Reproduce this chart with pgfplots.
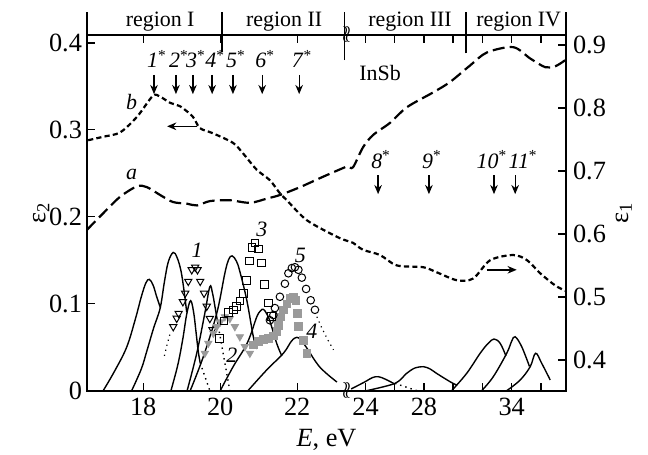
\documentclass[border=0pt]{standalone}
\usepackage{fontspec}
\setmainfont{Liberation Serif}
\usepackage{pgfplots}
\pgfplotsset{compat=1.18}
\usetikzlibrary{arrows.meta}
\definecolor{mgray}{HTML}{9A9A9A}

\newcommand{\tk}{\fontsize{13.2}{15}\selectfont}
\newcommand{\an}{\fontsize{11}{13}\selectfont}
\tikzset{dn/.style={line width=0.65bp, -{Stealth[length=4.6bp,width=3.8bp]}},
         lb/.style={font=\an, anchor=base, inner sep=0pt}}
\newcommand{\pmark}[5]{% x, arrow top, arrow bottom, label text, label shift
  \draw[dn] (axis cs:#1,#2) -- (axis cs:#1,#3);
  \node[lb] at (axis cs:#1,#2) [yshift=3.5bp, xshift=#5] {\textit{#4}\textsuperscript{*}};}

\begin{document}
\begin{tikzpicture}
\useasboundingbox (-43.5bp,-32.15bp) rectangle (280.5bp,195.35bp);
% x axis: 16.5..23.3 eV linear, right of the break 1 eV = 0.379 units
\begin{axis}[
  at={(0,0)}, anchor=south west,
  scale only axis, width=239.5bp, height=177.85bp,
  xmin=16.54, xmax=28.98, ymin=0, ymax=0.409,
  xtick={18,20,22,23.774,24.532,25.29,26.05,26.81,27.57,28.33},
  xticklabels={18,20,22,24,,28,,,34,},
  ytick={0,0.1,0.2,0.3,0.4}, yticklabels={0,0.1,0.2,0.3,0.4},
  ytick pos=left,
  tick align=inside,
  major tick length=4bp,
  axis line style={line width=1bp},
  tick style={line width=0.7bp, black},
  tick label style={font=\tk},
  yticklabel style={xshift=1bp},
  xlabel={\textit{E}, eV}, ylabel={ε\textsubscript{2}},
  ylabel shift=-7bp,
  label style={font=\tk},
  clip=false,
]
% eps curves
\addplot[line width=1.1bp, dash pattern=on 2.6bp off 1.6bp, smooth, tension=0.5] coordinates {
 (16.57,0.288) (16.96,0.292) (17.40,0.297) (17.84,0.315) (18.25,0.339) (18.44,0.338)
 (18.70,0.331) (18.96,0.327) (19.29,0.315) (19.47,0.302) (19.81,0.296) (20.33,0.285)
 (20.59,0.273) (20.95,0.254) (21.29,0.242) (21.55,0.227) (21.73,0.219) (22.25,0.196)
 (23.03,0.177) (23.32,0.172) (23.45,0.170) (23.71,0.162) (24.15,0.156) (24.59,0.144)
 (25.27,0.142) (25.63,0.136) (26.15,0.127) (26.57,0.129) (27.01,0.150) (27.61,0.156)
 (27.97,0.150) (28.31,0.135) (28.70,0.121) (28.96,0.115)};
\addplot[line width=1.1bp, dash pattern=on 6bp off 2.6bp, smooth, tension=0.5] coordinates {
 (16.54,0.185) (16.96,0.204) (17.40,0.223) (17.84,0.235) (18.10,0.234) (18.44,0.225)
 (18.77,0.217) (19.14,0.215) (19.40,0.213) (19.73,0.218) (20.25,0.219) (20.77,0.216)
 (21.22,0.221) (21.55,0.225) (22.07,0.234) (22.67,0.246) (23.19,0.256) (23.32,0.258)
 (23.45,0.257) (23.71,0.280) (23.97,0.294) (24.41,0.308) (24.85,0.326) (25.53,0.343)
 (25.97,0.355) (26.49,0.374) (26.93,0.389) (27.61,0.395) (28.05,0.382) (28.44,0.372)
 (28.70,0.373) (28.96,0.380)};
% solid peaks, region I-II
\addplot[line width=0.7bp, smooth, tension=0.6] coordinates {
 (16.96,0) (17.25,0.022) (17.57,0.050) (17.80,0.083) (17.95,0.108) (18.07,0.124)
 (18.16,0.128) (18.26,0.121) (18.35,0.108) (18.45,0.095)};
\addplot[line width=0.7bp, smooth, tension=0.6] coordinates {
 (17.70,0) (17.95,0.025) (18.09,0.045) (18.27,0.072) (18.44,0.095) (18.55,0.125)
 (18.65,0.148) (18.78,0.159) (18.88,0.153) (18.98,0.138) (19.06,0.115) (19.13,0.090)};
\addplot[line width=0.7bp, smooth, tension=0.6] coordinates {
 (18.72,0) (18.90,0.030) (19.03,0.060) (19.13,0.088) (19.23,0.1035) (19.31,0.090)
 (19.37,0.068) (19.43,0.045) (19.48,0.032)};
\addplot[line width=0.7bp, dotted] coordinates {(19.48,0.032) (19.73,0)};
\addplot[line width=0.7bp, smooth, tension=0.6] coordinates {
 (19.14,0) (19.39,0.043) (19.60,0.089) (19.73,0.1196) (19.80,0.112) (19.87,0.095) (19.95,0.074)};
\addplot[line width=0.7bp, dotted] coordinates {(19.95,0.074) (20.25,0)};
\addplot[line width=0.7bp, smooth, tension=0.6] coordinates {
 (19.22,0) (19.56,0.039) (19.91,0.089) (20.12,0.135) (20.22,0.151) (20.31,0.155)
 (20.42,0.149) (20.51,0.137) (20.69,0.104) (20.86,0.062) (20.95,0.048)};
\addplot[line width=0.7bp, smooth, tension=0.6] coordinates {
 (20.00,0) (20.34,0.028) (20.62,0.048) (20.77,0.062) (20.95,0.085) (21.05,0.092)
 (21.12,0.0935) (21.20,0.089) (21.29,0.080) (21.47,0.054) (21.60,0.040)};
\addplot[line width=0.7bp, smooth, tension=0.6] coordinates {
 (20.72,0) (21.21,0.024) (21.64,0.043) (21.85,0.057) (21.99,0.0614) (22.10,0.058)
 (22.25,0.049) (22.59,0.027) (23.03,0.010)};
% dotted fit tails
\addplot[line width=0.6bp, dotted] coordinates {(18.55,0.040) (18.62,0.053) (18.70,0.066)};
\addplot[line width=0.6bp, dotted] coordinates {(22.51,0.085) (22.65,0.071) (22.80,0.058) (22.94,0.047)};
% solid peaks, region III-IV
\addplot[line width=0.7bp, smooth, tension=0.6] coordinates {
 (23.40,0.002) (23.75,0.010) (23.95,0.0150) (24.11,0.0161) (24.30,0.013) (24.54,0.0075)};
\addplot[line width=0.7bp, smooth, tension=0.5] coordinates {
 (23.80,0) (24.54,0.0084) (24.84,0.0199) (25.05,0.026) (25.28,0.0276) (25.45,0.025)
 (25.62,0.0199) (25.97,0.0103) (26.14,0.0065)};
\addplot[line width=0.7bp, dotted] coordinates {(24.54,0.0084) (25.11,0)};
\addplot[line width=0.7bp, smooth, tension=0.6] coordinates {
 (26.01,0) (26.40,0.0199) (26.75,0.043) (26.96,0.0545) (27.11,0.0594) (27.27,0.0545) (27.42,0.040)};
\addplot[line width=0.7bp, smooth, tension=0.6] coordinates {
 (26.79,0) (27.09,0.016) (27.44,0.043) (27.57,0.057) (27.66,0.062) (27.83,0.0506) (28.03,0.028)};
\addplot[line width=0.7bp, smooth, tension=0.6] coordinates {
 (27.44,0) (27.79,0.0123) (28.05,0.0276) (28.19,0.043) (28.35,0.0314) (28.57,0.0123)};
% experimental points
\addplot[only marks, mark=triangle, mark size=2.1bp, mark options={rotate=180, line width=0.5bp}] coordinates {
 (18.78,0.0736) (18.87,0.0832) (18.92,0.0889) (19.03,0.1023) (19.09,0.112) (19.17,0.1257)
 (19.26,0.139) (19.35,0.142) (19.41,0.139) (19.48,0.1257) (19.58,0.112) (19.65,0.097)
 (19.73,0.083) (19.80,0.070)};
\addplot[only marks, mark=triangle*, mark size=2.1bp, mgray, mark options={rotate=180, draw=mgray, fill=mgray}] coordinates {
 (19.60,0.043) (19.69,0.0545) (19.82,0.066) (19.91,0.0736) (20.00,0.079) (20.12,0.085)
 (20.25,0.083) (20.38,0.0736) (20.51,0.062) (20.64,0.0506) (20.77,0.043)};
\addplot[only marks, mark=square, mark size=1.9bp, mark options={line width=0.5bp}] coordinates {
 (19.98,0.060) (20.10,0.080) (20.21,0.090) (20.34,0.093) (20.43,0.097) (20.51,0.103)
 (20.60,0.112) (20.69,0.127) (20.76,0.149) (20.82,0.165) (20.90,0.170) (20.99,0.163)
 (21.07,0.147) (21.15,0.122) (21.25,0.101) (21.33,0.085)};
\addplot[only marks, mark=square*, mark size=1.9bp, mgray, mark options={draw=mgray, fill=mgray}] coordinates {
 (20.86,0.0525) (20.99,0.0564) (21.12,0.059) (21.25,0.060) (21.38,0.063) (21.47,0.068)
 (21.51,0.075) (21.57,0.085) (21.64,0.093) (21.73,0.100) (21.81,0.106) (21.90,0.108)
 (21.97,0.104) (22.00,0.089) (22.03,0.074) (22.16,0.058) (22.25,0.043)};
\addplot[only marks, mark=o, mark size=1.9bp, mark options={line width=0.5bp}] coordinates {
 (21.29,0.081) (21.38,0.087) (21.42,0.095) (21.55,0.108) (21.68,0.123) (21.77,0.135)
 (21.86,0.141) (21.94,0.142) (22.03,0.139) (22.12,0.130) (22.23,0.117) (22.35,0.104)
 (22.46,0.093)};
% annotations
\pmark{18.28}{0.363}{0.341}{1}{1.5bp}
\pmark{18.85}{0.363}{0.341}{2}{1.5bp}
\pmark{19.29}{0.363}{0.341}{3}{1.5bp}
\pmark{19.79}{0.363}{0.341}{4}{1.5bp}
\pmark{20.33}{0.363}{0.341}{5}{1.5bp}
\pmark{21.09}{0.363}{0.341}{6}{1.5bp}
\pmark{22.05}{0.363}{0.341}{7}{1.5bp}
\pmark{24.10}{0.248}{0.226}{8}{1.5bp}
\pmark{25.42}{0.248}{0.226}{9}{1.5bp}
\pmark{27.11}{0.248}{0.226}{10}{-1bp}
\pmark{27.66}{0.248}{0.226}{11}{4bp}
\draw[line width=0.7bp, -{Stealth[length=4.6bp,width=3.8bp]}] (axis cs:19.39,0.304) -- (axis cs:18.62,0.304);
\draw[line width=0.7bp, -{Stealth[length=4.6bp,width=3.8bp]}] (axis cs:26.92,0.139) -- (axis cs:27.70,0.139);
\node[font=\an] at (axis cs:24.15,0.365) {InSb};
\node[font=\an] at (axis cs:17.70,0.332) {\textit{b}};
\node[font=\an] at (axis cs:17.70,0.249) {\textit{a}};
\node[font=\an] at (axis cs:19.40,0.161) {\textit{1}};
\node[font=\an] at (axis cs:20.30,0.041) {\textit{2}};
\node[font=\an] at (axis cs:21.08,0.185) {\textit{3}};
\node[font=\an] at (axis cs:22.38,0.068) {\textit{4}};
\node[font=\an] at (axis cs:22.08,0.156) {\textit{5}};
% break marks and regions
\node[font=\fontsize{12}{13}\selectfont, inner sep=0pt] at (axis cs:23.28,0) {$\wr\!\wr$};
\node[font=\fontsize{12}{13}\selectfont, inner sep=0pt] at (axis cs:23.28,0.409) {$\wr\!\wr$};
\draw[line width=1bp] (axis cs:16.54,0.409) -- (axis cs:16.54,0.435);
\draw[line width=1bp] (axis cs:28.98,0.409) -- (axis cs:28.98,0.435);
\draw[line width=0.7bp] (axis cs:20.05,0.390) -- (axis cs:20.05,0.435);
\draw[line width=0.7bp] (axis cs:23.22,0.380) -- (axis cs:23.22,0.435);
\draw[line width=0.7bp] (axis cs:26.38,0.388) -- (axis cs:26.38,0.435);
\node[font=\an] at (axis cs:18.44,0.424) {region I};
\node[font=\an] at (axis cs:21.66,0.424) {region II};
\node[font=\an] at (axis cs:24.93,0.424) {region III};
\node[font=\an] at (axis cs:27.75,0.424) {region IV};
\end{axis}
\begin{axis}[
  at={(0,0)}, anchor=south west,
  scale only axis, width=239.5bp, height=177.85bp,
  xmin=16.54, xmax=28.98, ymin=0.351, ymax=0.916,
  axis x line=none, axis y line*=right,
  ytick={0.4,0.5,0.6,0.7,0.8,0.9}, yticklabels={0.4,0.5,0.6,0.7,0.8,0.9},
  tick align=inside,
  major tick length=4bp,
  axis line style={line width=1bp, -},
  tick style={line width=0.7bp, black},
  tick label style={font=\tk},
  ylabel={ε\textsubscript{1}},
  ylabel shift=-2bp,
  label style={font=\tk},
]
\end{axis}
\end{tikzpicture}
\end{document}
